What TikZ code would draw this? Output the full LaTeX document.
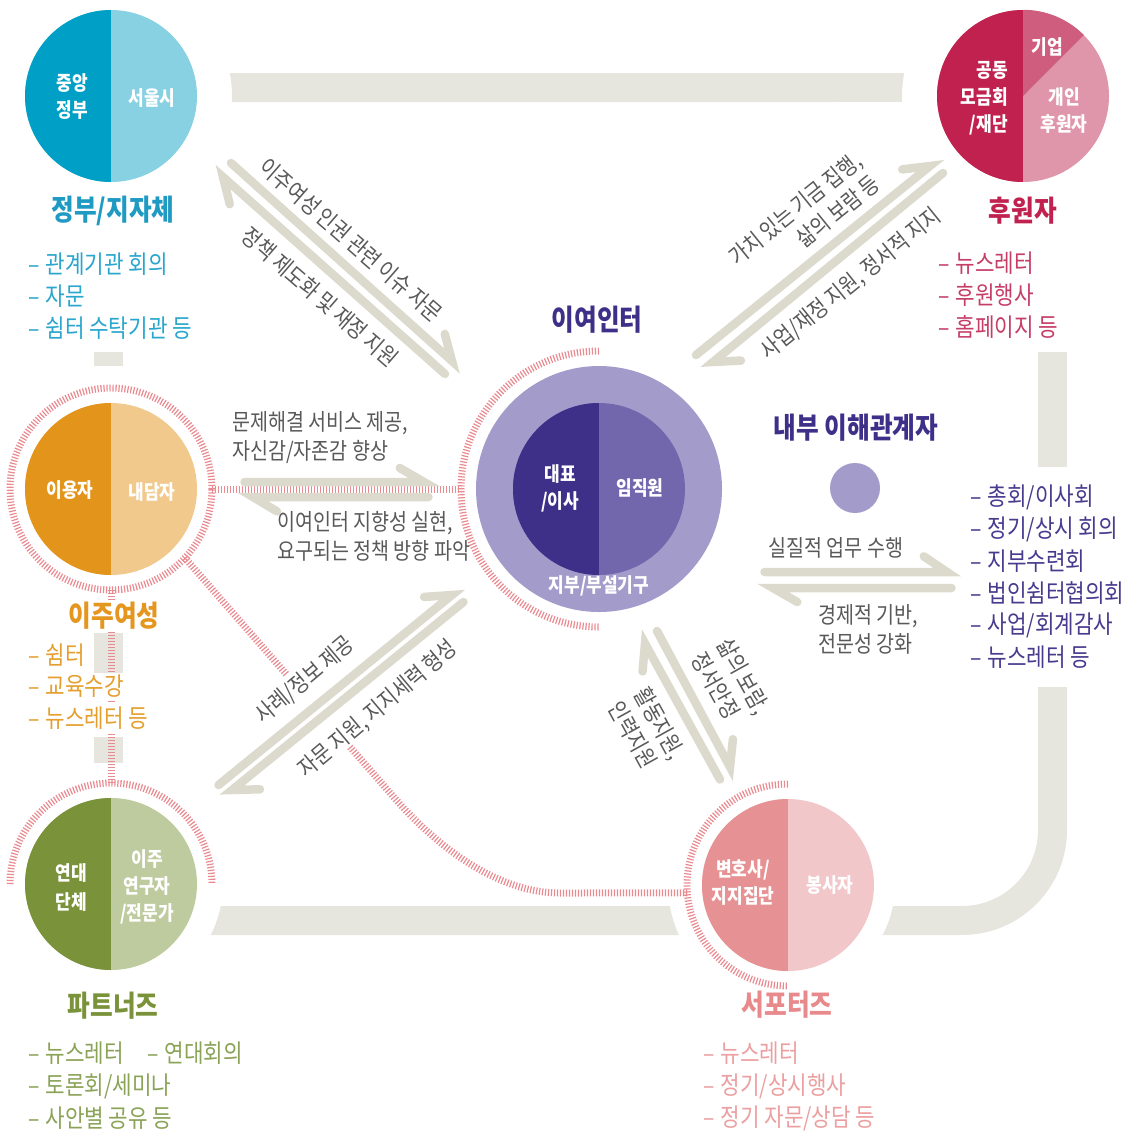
\documentclass[tikz,border=0pt]{standalone}
\usepackage{fontspec}
\setmainfont{Noto Sans CJK KR}[FakeStretch=0.85]
\usepackage{tikz}
\usetikzlibrary{calc}

\definecolor{govA}{HTML}{009FC5}
\definecolor{govB}{HTML}{88D1E3}
\definecolor{govT}{HTML}{1E9AC3}
\definecolor{govL}{HTML}{29A6CD}
\definecolor{spoA}{HTML}{C0214F}
\definecolor{spoB}{HTML}{CF5E7E}
\definecolor{spoC}{HTML}{E096AA}
\definecolor{spoL}{HTML}{C63D68}
\definecolor{migA}{HTML}{E2941B}
\definecolor{migB}{HTML}{F2C98D}
\definecolor{migT}{HTML}{E4961F}
\definecolor{migL}{HTML}{E59F2E}
\definecolor{parA}{HTML}{7A933A}
\definecolor{parB}{HTML}{BECB9F}
\definecolor{parL}{HTML}{8AA357}
\definecolor{cenC}{HTML}{A39CCA}
\definecolor{cenA}{HTML}{3E2F89}
\definecolor{cenB}{HTML}{7267AD}
\definecolor{innL}{HTML}{483B8E}
\definecolor{supA}{HTML}{E69294}
\definecolor{supB}{HTML}{F2C7C9}
\definecolor{supT}{HTML}{E8898B}
\definecolor{supL}{HTML}{EC9FA0}
\definecolor{tickpink}{HTML}{E98A91}
\definecolor{bargray}{HTML}{E6E5DE}
\definecolor{arrowgray}{HTML}{DCDACD}
\definecolor{notegray}{HTML}{595959}

\tikzset{
  halfdisc/.style 2 args={circle,inner sep=0pt,minimum size=172pt,fill=#2,
    path picture={\fill[#1] (path picture bounding box.south west) rectangle (path picture bounding box.north);}},
  harp/.style={draw=arrowgray,line width=8.5pt,line cap=round,line join=miter},
  pinkticks/.style={draw=tickpink,line width=7pt,dash pattern=on 1.2pt off 1.8pt},
  inlabel/.style={text=white,inner sep=0pt,align=center,font=\fontsize{20}{27}\selectfont\bfseries},
  grouptitle/.style={text=#1,inner sep=1pt,font=\fontsize{29}{32}\selectfont\bfseries},
  listitem/.style={anchor=west,inner xsep=0pt,inner ysep=2.5pt,fill=white,text=#1,font=\fontsize{25}{28}\selectfont},
  arrowtext/.style={text=notegray,inner sep=0pt,font=\fontsize{23}{29}\selectfont},
}
\newcommand{\dashitem}[1]{–\hspace{6pt}#1}

\begin{document}
\begin{tikzpicture}[x=1pt,y=1pt]
\useasboundingbox (0,0) rectangle (1135,-1130);

% gray bars
\fill[bargray] (229.8,-73) -- (904.2,-73) arc[start angle=169.04,end angle=182.84,radius=121] -- (231.85,-102) arc[start angle=-2.84,end angle=10.96,radius=121] -- cycle;
\fill[bargray] (220.8,-906) -- (669.85,-906) arc[start angle=190.08,end angle=204.62,radius=120] -- (210.7,-935) arc[start angle=-27.08,end angle=-11.33,radius=112] -- cycle;
\fill[bargray] (1067,-687) -- (1067,-830) arc[start angle=0,end angle=-90,radius=105] -- (882.6,-935) arc[start angle=-27.86,end angle=-11.32,radius=107] -- (962,-906) arc[start angle=-90,end angle=0,radius=76] -- (1038,-687) -- cycle;
\fill[bargray] (1038,-352) rectangle (1067,-467);
\fill[bargray] (94,-352) rectangle (123,-366);
\fill[bargray] (94,-633) rectangle (123,-675);
\fill[bargray] (94,-737) rectangle (123,-763);

% circles
\node[halfdisc={govA}{govB}] (gov) at (111,-96) {};
\node[halfdisc={spoA}{spoC}] (spo) at (1023,-96) {};
\fill[spoB] (spo.center) -- (spo.north) arc[start angle=90,end angle=45,radius=86] -- cycle;
\node[halfdisc={migA}{migB}] (mig) at (111,-489) {};
\node[halfdisc={parA}{parB}] (par) at (111,-884) {};
\node[circle,inner sep=0pt,minimum size=246pt,fill=cenC] (cen) at (599,-489) {};
\node[halfdisc={cenA}{cenB}] (core) at (cen.center) {};
\node[halfdisc={supA}{supB}] (sup) at (788,-885) {};
\node[circle,inner sep=0pt,minimum size=50pt,fill=cenC] (inn) at (855,-488) {};

% rings
\draw[pinkticks] (mig.center) circle[radius=101];
\draw[pinkticks] ($(cen.center)+(90:138)$) arc[start angle=90,end angle=270,radius=138];
\draw[pinkticks] ($(par.center)+(180:101)$) arc[start angle=180,end angle=0,radius=101];
\draw[pinkticks] ($(sup.center)+(90:101)$) arc[start angle=90,end angle=270,radius=101];

% pink links
\coordinate (pk1) at (287,-675);
\coordinate (pk2) at (350,-747);
\coordinate (pk3) at (395,-798.5);
\coordinate (pk4) at (440,-850);
\coordinate (pk5) at (500,-893);
\coordinate (pk6) at (560,-893);
\draw[pinkticks] ($(mig.center)+(101,0)$) -- ($(cen.center)+(-138,0)$);
\draw[pinkticks] ($(mig.center)+(0,-101)$) -- ($(par.center)+(0,101)$);
\draw[pinkticks] ($(mig.center)+(-43:101)$) -- (pk1);
\draw[pinkticks] (pk2) -- (pk3) .. controls (pk4) and (pk5) .. (pk6) -- ($(sup.center)+(184.5:101)$);

% arrows
\coordinate (a1s) at (231,-163);   \coordinate (a1t) at (452,-361);
\coordinate (a2s) at (445,-374);   \coordinate (a2t) at (223,-177);
\coordinate (b1s) at (696,-355);   \coordinate (b1t) at (930,-166);
\coordinate (b2s) at (943,-173);   \coordinate (b2t) at (713,-362);
\coordinate (c1s) at (244.5,-482); \coordinate (c1t) at (424,-482);
\coordinate (c2s) at (428.5,-497); \coordinate (c2t) at (253,-497);
\coordinate (d1s) at (218.5,-785); \coordinate (d1t) at (452,-595);
\coordinate (d2s) at (463.5,-602); \coordinate (d2t) at (232,-790);
\coordinate (e1s) at (720,-779.5); \coordinate (e1t) at (645,-643.5);
\coordinate (e2s) at (657,-631);   \coordinate (e2t) at (730,-767);
\coordinate (f1s) at (764.5,-572); \coordinate (f1t) at (947,-572);
\coordinate (f2s) at (951.5,-588); \coordinate (f2t) at (773,-588);
\draw[harp] (a1s) -- (a1t) -- ++(105:28);
\draw[harp] (a2s) -- (a2t) -- ++(-76:28);
\draw[harp] (b1s) -- (b1t) -- ++(187:28);
\draw[harp] (b2s) -- (b2t) -- ++(3:28);
\draw[harp] (c1s) -- (c1t) -- ++(150:28);
\draw[harp] (c2s) -- (c2t) -- ++(-31:28);
\draw[harp] (d1s) -- (d1t) -- ++(184:28);
\draw[harp] (d2s) -- (d2t) -- ++(1.5:28);
\draw[harp] (e1s) -- (e1t) -- ++(265:28);
\draw[harp] (e2s) -- (e2t) -- ++(84:28);
\draw[harp] (f1s) -- (f1t) -- ++(146:28);
\draw[harp] (f2s) -- (f2t) -- ++(-30:28);

% arrow texts
\node[arrowtext,rotate=-41] (a1l) at (351,-240) {이주여성 인권 관련 이슈 자문};
\node[arrowtext,rotate=-41] (a2l) at (320,-297) {정책 제도화 및 재정 지원};
\node[arrowtext,rotate=39,align=right] (b1l) at (804,-220) {가치 있는 기금 집행,\\삶의 보람 등};
\node[arrowtext,rotate=39] (b2l) at (851,-284) {사업/재정 지원, 정서적 지지};
\node[arrowtext,anchor=west,align=left] (c1l) at (232,-438) {문제해결 서비스 제공,\\자신감/자존감 향상};
\node[arrowtext,anchor=west,align=left] (c2l) at (277,-536) {이여인터 지향성 실현,\\요구되는 정책 방향 파악};
\node[arrowtext,rotate=40] (d1l) at (305,-680) {사례/정보 제공};
\node[arrowtext,rotate=40] (d2l) at (378,-709) {자문 지원, 지지세력 형성};
\node[arrowtext,rotate=-61,align=left] (e1l) at (731,-683) {삶의 보람,\\정서안정};
\node[arrowtext,rotate=-61,align=left] (e2l) at (647,-730) {활동지원,\\인력지원};
\node[arrowtext] (f1l) at (836,-548) {실질적 업무 수행};
\node[arrowtext,anchor=west,align=left] (f2l) at (818,-629) {경제적 기반,\\전문성 강화};

% circle texts
\node[inlabel] (gov1) at (72,-97) {중앙\\정부};
\node[inlabel] (gov2) at (152,-98) {서울시};
\node[inlabel,anchor=east,align=right] (spo1) at (1008,-98) {공동\\모금회\\/재단};
\node[inlabel] (spo2) at (1047,-47) {기업};
\node[inlabel] (spo3) at (1064,-111) {개인\\후원자};
\node[inlabel] (mig1) at (70,-490) {이용자};
\node[inlabel] (mig2) at (152,-492) {내담자};
\node[inlabel,font=\fontsize{20}{29}\selectfont\bfseries] (par1) at (71,-887) {연대\\단체};
\node[inlabel] (par2) at (147,-887) {이주\\연구자\\/전문가};
\node[inlabel] (core1) at (560,-488) {대표\\/이사};
\node[inlabel] (core2) at (640,-488) {임직원};
\node[inlabel] (cen1) at (599,-586) {지부/부설기구};
\node[inlabel] (sup1) at (743,-883) {변호사/\\지지집단};
\node[inlabel] (sup2) at (830,-885) {봉사자};

% titles
\node[grouptitle=govT] (govt) at (113,-211) {정부/지자체};
\node[grouptitle=spoA] (spot) at (1023,-211) {후원자};
\node[grouptitle=migT,fill=white] (migt) at (114,-616) {이주여성};
\node[grouptitle=parA] (part) at (113,-1006) {파트너즈};
\node[grouptitle=supT] (supt) at (787,-1005) {서포터즈};
\node[grouptitle=cenA] (cent) at (597,-320) {이여인터};
\node[grouptitle=cenA] (innt) at (856,-428) {내부 이해관계자};

% lists
\foreach \t [count=\i] in {관계기관 회의,자문,쉼터 수탁기관 등}
  \node[listitem=govL] (govl\i) at (28,-232-32*\i) {\dashitem{\t}};
\foreach \t [count=\i] in {뉴스레터,후원행사,홈페이지 등}
  \node[listitem=spoL] (spol\i) at (938,-231-32*\i) {\dashitem{\t}};
\foreach \t [count=\i] in {쉼터,교육수강,뉴스레터 등}
  \node[listitem=migL] (migl\i) at (28,-623.5-31.5*\i) {\dashitem{\t}};
\foreach \t [count=\i] in {총회/이사회,정기/상시 회의,지부수련회,법인쉼터협의회,사업/회계감사,뉴스레터 등}
  \node[listitem=innL] (innl\i) at (970,-465-32*\i) {\dashitem{\t}};
\foreach \t [count=\i] in {뉴스레터,정기/상시행사,정기 자문/상담 등}
  \node[listitem=supL] (supl\i) at (703,-1021-32.5*\i) {\dashitem{\t}};
\node[listitem=parL] (parl1) at (28,-1053) {\dashitem{뉴스레터}};
\node[listitem=parL] (parl2) at (147,-1053) {\dashitem{연대회의}};
\node[listitem=parL] (parl3) at (28,-1086) {\dashitem{토론회/세미나}};
\node[listitem=parL] (parl4) at (28,-1118) {\dashitem{사안별 공유 등}};
\end{tikzpicture}
\end{document}
